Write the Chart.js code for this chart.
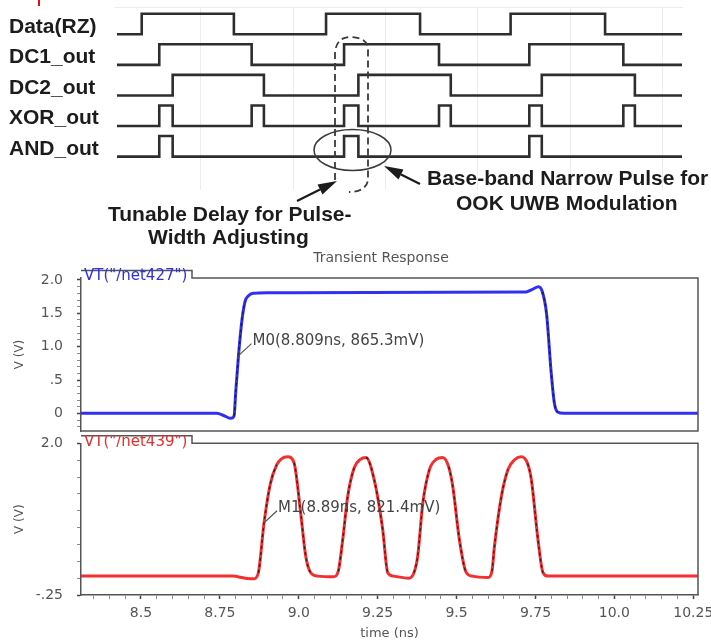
<!DOCTYPE html>
<html>
<head>
<meta charset="utf-8">
<script src="https://cdn.jsdelivr.net/npm/chart.js@4.4.1/dist/chart.umd.min.js"></script>
<style>
html, body { margin: 0; padding: 0; background: #fff; }
#wrap { position: relative; width: 711px; height: 644px; overflow: hidden; background: #fff; }
canvas { position: absolute; left: 0; }
</style>
</head>
<body>
<div id="wrap">
	<canvas id="tranTop" width="711" height="185" style="top:250px"></canvas>
	<canvas id="tranBot" width="711" height="209" style="top:435px"></canvas>
	<canvas id="timing" width="711" height="262" style="top:0"></canvas>
</div>
<script>
// ---- timing diagram (edge times, arbitrary units; every trace starts low) ----
var sigNames = ['Data(RZ)', 'DC1_out', 'DC2_out', 'XOR_out', 'AND_out'];
var dataEdges = [1.07, 5.06, 9.05, 13.12, 17.04, 21.13];
var dc1Edges = [1.83, 5.83, 9.83, 13.94, 17.85, 21.92];
var dc2Edges = [2.41, 6.36, 10.45, 14.45, 18.39, 22.42];
var xorEdges = [1.83, 2.41, 5.83, 6.36, 9.83, 10.45, 13.94, 14.45, 17.85, 18.39, 21.92, 22.42];
var andEdges = [1.83, 2.41, 9.83, 10.45, 17.85, 18.39];
var tEnd = 24.46;
var timingGrid = [3.6, 7.6, 11.6, 15.6, 19.6, 23.6];

// ---- transient response ----
var blueT = [8.31, 8.74, 8.765, 8.785, 8.795, 8.80, 8.809, 8.82, 8.83, 8.84, 8.855, 8.9, 9.72, 9.74, 9.76, 9.772, 9.785, 9.80, 9.81, 9.82, 9.84, 10.265];
var blueV = [0, 0, -0.04, -0.075, -0.04, 0.3, 0.865, 1.4, 1.68, 1.76, 1.8, 1.81, 1.82, 1.86, 1.9, 1.82, 1.5, 0.6, 0.15, 0.02, 0, 0];
var redT = [8.31, 8.79, 8.83, 8.858, 8.872, 8.89, 8.91, 8.93, 8.945, 8.965, 8.985, 9.006, 9.022, 9.038, 9.06, 9.11, 9.125, 9.14, 9.155, 9.176, 9.195, 9.213, 9.239, 9.266, 9.282, 9.30, 9.349, 9.365, 9.377, 9.393, 9.414, 9.435, 9.456, 9.475, 9.488, 9.509, 9.53, 9.55, 9.60, 9.612, 9.62, 9.642, 9.663, 9.685, 9.705, 9.725, 9.737, 9.758, 9.774, 9.79, 10.265];
var redV = [0.03, 0.03, 0.0, -0.01, 0.08, 0.82, 1.4, 1.68, 1.77, 1.8, 1.71, 0.97, 0.33, 0.08, 0.03, 0.02, 0.1, 0.6, 1.21, 1.64, 1.76, 1.79, 1.46, 0.72, 0.08, 0.03, 0.0, 0.08, 0.33, 1.11, 1.61, 1.76, 1.79, 1.65, 1.36, 0.57, 0.09, 0.03, 0.01, 0.1, 0.47, 1.21, 1.61, 1.76, 1.8, 1.7, 1.46, 0.57, 0.08, 0.03, 0.03];
var m0 = ['M0', 8.809, 0.8653];
var m1 = ['M1', 8.89, 0.8214];
var xTickVals = [8.5, 8.75, 9.0, 9.25, 9.5, 9.75, 10.0, 10.25];
var xTickLabels = ['8.5', '8.75', '9.0', '9.25', '9.5', '9.75', '10.0', '10.25'];
var yTopVals = [0, 0.5, 1.0, 1.5, 2.0];
var yTopLabels = ['0', '.5', '1.0', '1.5', '2.0'];
var yBotVals = [-0.25, 2.0];
var yBotLabels = ['-.25', '2.0'];

Chart.defaults.font.family = 'DejaVu Sans';
Chart.defaults.animation = false;

function steps(edges) {
	var pts = [{x: 0, y: 0}];
	edges.forEach(function(t, i) { pts.push({x: t, y: i % 2 === 0 ? 1 : 0}); });
	pts.push({x: tEnd, y: pts[pts.length - 1].y});
	return pts;
}
function xy(ts, vs) {
	return ts.map(function(t, i) { return {x: t, y: vs[i]}; });
}
function range(lo, hi, step) {
	var n = Math.round((hi - lo) / step), out = [];
	for (var i = 0; i <= n; i++) out.push(+(lo + i * step).toFixed(4));
	return out;
}
function idx(vals, v) {
	for (var i = 0; i < vals.length; i++) if (Math.abs(vals[i] - v) < 1e-6) return i;
	return -1;
}
function arrow(c, x0, y0, x1, y1) {
	var a = Math.atan2(y1 - y0, x1 - x0), L = 19, W = 5.5;
	var bx = x1 - L * Math.cos(a), by = y1 - L * Math.sin(a);
	c.beginPath(); c.moveTo(x0, y0); c.lineTo(bx, by); c.stroke();
	c.beginPath(); c.moveTo(x1, y1);
	c.lineTo(bx + W * Math.sin(a), by - W * Math.cos(a));
	c.lineTo(bx - W * Math.sin(a), by + W * Math.cos(a));
	c.closePath(); c.fill();
}

// ---------------- timing diagram ----------------
var rowStep = 1.485;
var allEdges = [dataEdges, dc1Edges, dc2Edges, xorEdges, andEdges];
var timingSets = allEdges.map(function(e, i) {
	return {
		data: steps(e).map(function(p) { return {x: p.x, y: p.y - i * rowStep}; }),
		borderColor: '#2e2e2e', borderWidth: 2.6, pointRadius: 0, stepped: true, fill: false
	};
});
var timingDecor = {
	id: 'timingDecor',
	beforeDatasetsDraw: function(chart) {
		var c = chart.ctx, xs = chart.scales.x;
		c.save();
		c.strokeStyle = '#ececec'; c.lineWidth = 1;
		timingGrid.forEach(function(t) {
			var x = Math.round(xs.getPixelForValue(t)) + 0.5;
			c.beginPath(); c.moveTo(x, 7); c.lineTo(x, 190); c.stroke();
		});
		c.beginPath(); c.moveTo(115, 7.5); c.lineTo(683, 7.5); c.stroke();
		c.restore();
	},
	afterDraw: function(chart) {
		var c = chart.ctx, ys = chart.scales.y;
		c.save();
		// little red mark top left
		c.strokeStyle = '#e01010'; c.lineWidth = 2;
		c.beginPath(); c.moveTo(39, 0); c.lineTo(39, 6); c.stroke();
		// signal names
		c.fillStyle = '#1c1c1c'; c.font = 'bold 21px "Liberation Sans"'; c.textBaseline = 'middle';
		sigNames.forEach(function(n, i) { c.fillText(n, 9, ys.getPixelForValue(-i * rowStep + 0.36)); });
		// dashed capsule round the delay
		c.strokeStyle = '#3a3a3a'; c.lineWidth = 1.8; c.setLineDash([7, 4]);
		c.beginPath();
		c.moveTo(335, 180); c.lineTo(335, 52);
		c.quadraticCurveTo(337, 36, 352, 37);
		c.quadraticCurveTo(368, 38, 368, 50);
		c.lineTo(368, 180);
		c.quadraticCurveTo(366, 192, 349, 192);
		c.stroke();
		c.setLineDash([]);
		// ellipse round the AND pulse
		c.lineWidth = 1.5;
		c.beginPath(); c.ellipse(352.5, 150, 38.5, 20.5, 0, 0, Math.PI * 2); c.stroke();
		// arrows
		c.fillStyle = '#1c1c1c'; c.strokeStyle = '#1c1c1c'; c.lineWidth = 2.2;
		arrow(c, 297, 201, 337, 181);
		arrow(c, 420, 184, 384, 166);
		// captions
		c.font = 'bold 21px "Liberation Sans"';
		c.fillText('Tunable Delay for Pulse-', 108, 215);
		c.fillText('Width Adjusting', 148, 238);
		c.fillText('Base-band Narrow Pulse for', 427, 179);
		c.fillText('OOK UWB Modulation', 456, 204);
		c.restore();
	}
};
var yTop = 1.665;
new Chart(document.getElementById('timing').getContext('2d'), {
	type: 'line',
	data: {datasets: timingSets},
	options: {
		responsive: false, devicePixelRatio: 1,
		layout: {padding: {left: 117, right: 29, top: 0, bottom: 0}},
		plugins: {legend: {display: false}, tooltip: {enabled: false}},
		scales: {
			x: {type: 'linear', display: false, min: 0, max: tEnd},
			y: {display: false, min: yTop - 262 / 20.6, max: yTop}
		}
	},
	plugins: [timingDecor]
});

// ---------------- transient response ----------------
function steepDash(ctx) {
	var dx = Math.abs(ctx.p1.x - ctx.p0.x), dy = Math.abs(ctx.p1.y - ctx.p0.y);
	return dy > 2 * dx ? 'rgba(25,25,25,0.85)' : 'rgba(0,0,0,0)';
}
function traceSets(pts, color) {
	// order: the dark dashed overlay is drawn on top of the coloured trace
	return [
		{data: pts, order: 2, borderColor: color, borderWidth: 3, pointRadius: 0, cubicInterpolationMode: 'monotone', fill: false},
		{data: pts, order: 1, borderColor: 'rgba(0,0,0,0)', borderWidth: 1.4, borderDash: [3, 3], pointRadius: 0,
			cubicInterpolationMode: 'monotone', fill: false, segment: {borderColor: steepDash}}
	];
}
function yAxis(min, max, vals, labels, minor) {
	return {
		min: min, max: max,
		afterBuildTicks: function(s) { s.ticks = minor.map(function(v) { return {value: v}; }); },
		afterFit: function(s) { s.width = 81; s.paddingTop = 0; s.paddingBottom = 0; },
		ticks: {
			autoSkip: false, padding: 14, color: '#555', font: {size: 14},
			callback: function(v) { var i = idx(vals, v); return i < 0 ? '' : labels[i]; }
		},
		grid: {
			drawOnChartArea: false, tickLength: 4,
			tickColor: function(ctx) { return idx(vals, ctx.tick.value) < 0 ? '#8a8a8a' : '#444'; },
			tickWidth: function(ctx) { return idx(vals, ctx.tick.value) < 0 ? 1 : 1.5; }
		},
		border: {color: '#555', width: 1.5},
		title: {display: true, text: 'V (V)', color: '#555', font: {size: 12}, padding: {top: 13, bottom: 0}}
	};
}
function frame(tabText, tabColor, closeBottom, marker, title) {
	return {
		id: 'frame',
		afterDraw: function(chart) {
			var c = chart.ctx, a = chart.chartArea, xs = chart.scales.x, ys = chart.scales.y;
			c.save();
			c.strokeStyle = '#555'; c.lineWidth = 1.5;
			c.beginPath();
			c.moveTo(a.left, a.top - 7.5); c.lineTo(a.left + 111, a.top - 7.5);
			c.lineTo(a.left + 111, a.top); c.lineTo(a.right, a.top);
			c.lineTo(a.right, a.bottom);
			if (closeBottom) c.lineTo(a.left, a.bottom);
			c.stroke();
			c.fillStyle = tabColor; c.font = '15px "DejaVu Sans"'; c.textBaseline = 'middle';
			c.fillText(tabText, a.left + 3, a.top - 1.5);
			// marker
			var px = xs.getPixelForValue(marker[1]), py = ys.getPixelForValue(marker[2]);
			c.strokeStyle = '#555'; c.lineWidth = 1.2;
			c.beginPath(); c.moveTo(px, py); c.lineTo(px + 13, py - 12); c.stroke();
			c.fillStyle = '#444';
			c.fillText(marker[0] + '(' + marker[1] + 'ns, ' + (marker[2] * 1000).toFixed(1) + 'mV)', px + 14, py - 15);
			if (title) {
				c.font = '14px "DejaVu Sans"'; c.fillStyle = '#555'; c.textAlign = 'center';
				c.fillText(title, 381, 8);
			}
			c.restore();
		}
	};
}

new Chart(document.getElementById('tranTop').getContext('2d'), {
	type: 'line',
	data: {datasets: traceSets(xy(blueT, blueV), '#3030f2')},
	options: {
		responsive: false, devicePixelRatio: 1,
		layout: {padding: {left: 0, right: 13, top: 28, bottom: 4}},
		plugins: {legend: {display: false}, tooltip: {enabled: false}},
		scales: {
			x: {type: 'linear', display: false, min: 8.31, max: 10.265},
			y: yAxis(-0.265, 2.03, yTopVals, yTopLabels, range(-0.2, 2.0, 0.1))
		}
	},
	plugins: [frame('VT("/net427")', '#3030e0', true, m0, 'Transient Response')]
});

new Chart(document.getElementById('tranBot').getContext('2d'), {
	type: 'line',
	data: {datasets: traceSets(xy(redT, redV), '#f23030')},
	options: {
		responsive: false, devicePixelRatio: 1,
		layout: {padding: {left: 0, right: 13, top: 8.3, bottom: 0}},
		plugins: {legend: {display: false}, tooltip: {enabled: false}},
		scales: {
			x: {
				type: 'linear', min: 8.31, max: 10.265,
				afterBuildTicks: function(s) { s.ticks = range(8.35, 10.25, 0.05).map(function(v) { return {value: v}; }); },
				afterFit: function(s) { s.height = 49; s.paddingLeft = 0; s.paddingRight = 0; },
				ticks: {
					autoSkip: false, maxRotation: 0, padding: 6, color: '#555', font: {size: 14},
					callback: function(v) { var i = idx(xTickVals, v); return i < 0 ? '' : xTickLabels[i]; }
				},
				grid: {
					drawOnChartArea: false, tickLength: 4,
					tickColor: function(ctx) { return idx(xTickVals, ctx.tick.value) < 0 ? '#8a8a8a' : '#444'; },
					tickWidth: function(ctx) { return idx(xTickVals, ctx.tick.value) < 0 ? 1 : 1.5; }
				},
				border: {color: '#555', width: 1.5},
				title: {display: true, text: 'time (ns)', color: '#555', font: {size: 13}, padding: {top: 0, bottom: 3}}
			},
			y: yAxis(-0.25, 2.0, yBotVals, yBotLabels, range(-0.25, 2.0, 0.25))
		}
	},
	plugins: [frame('VT("/net439")', '#e03030', false, m1, null)]
});
</script>
</body>
</html>
